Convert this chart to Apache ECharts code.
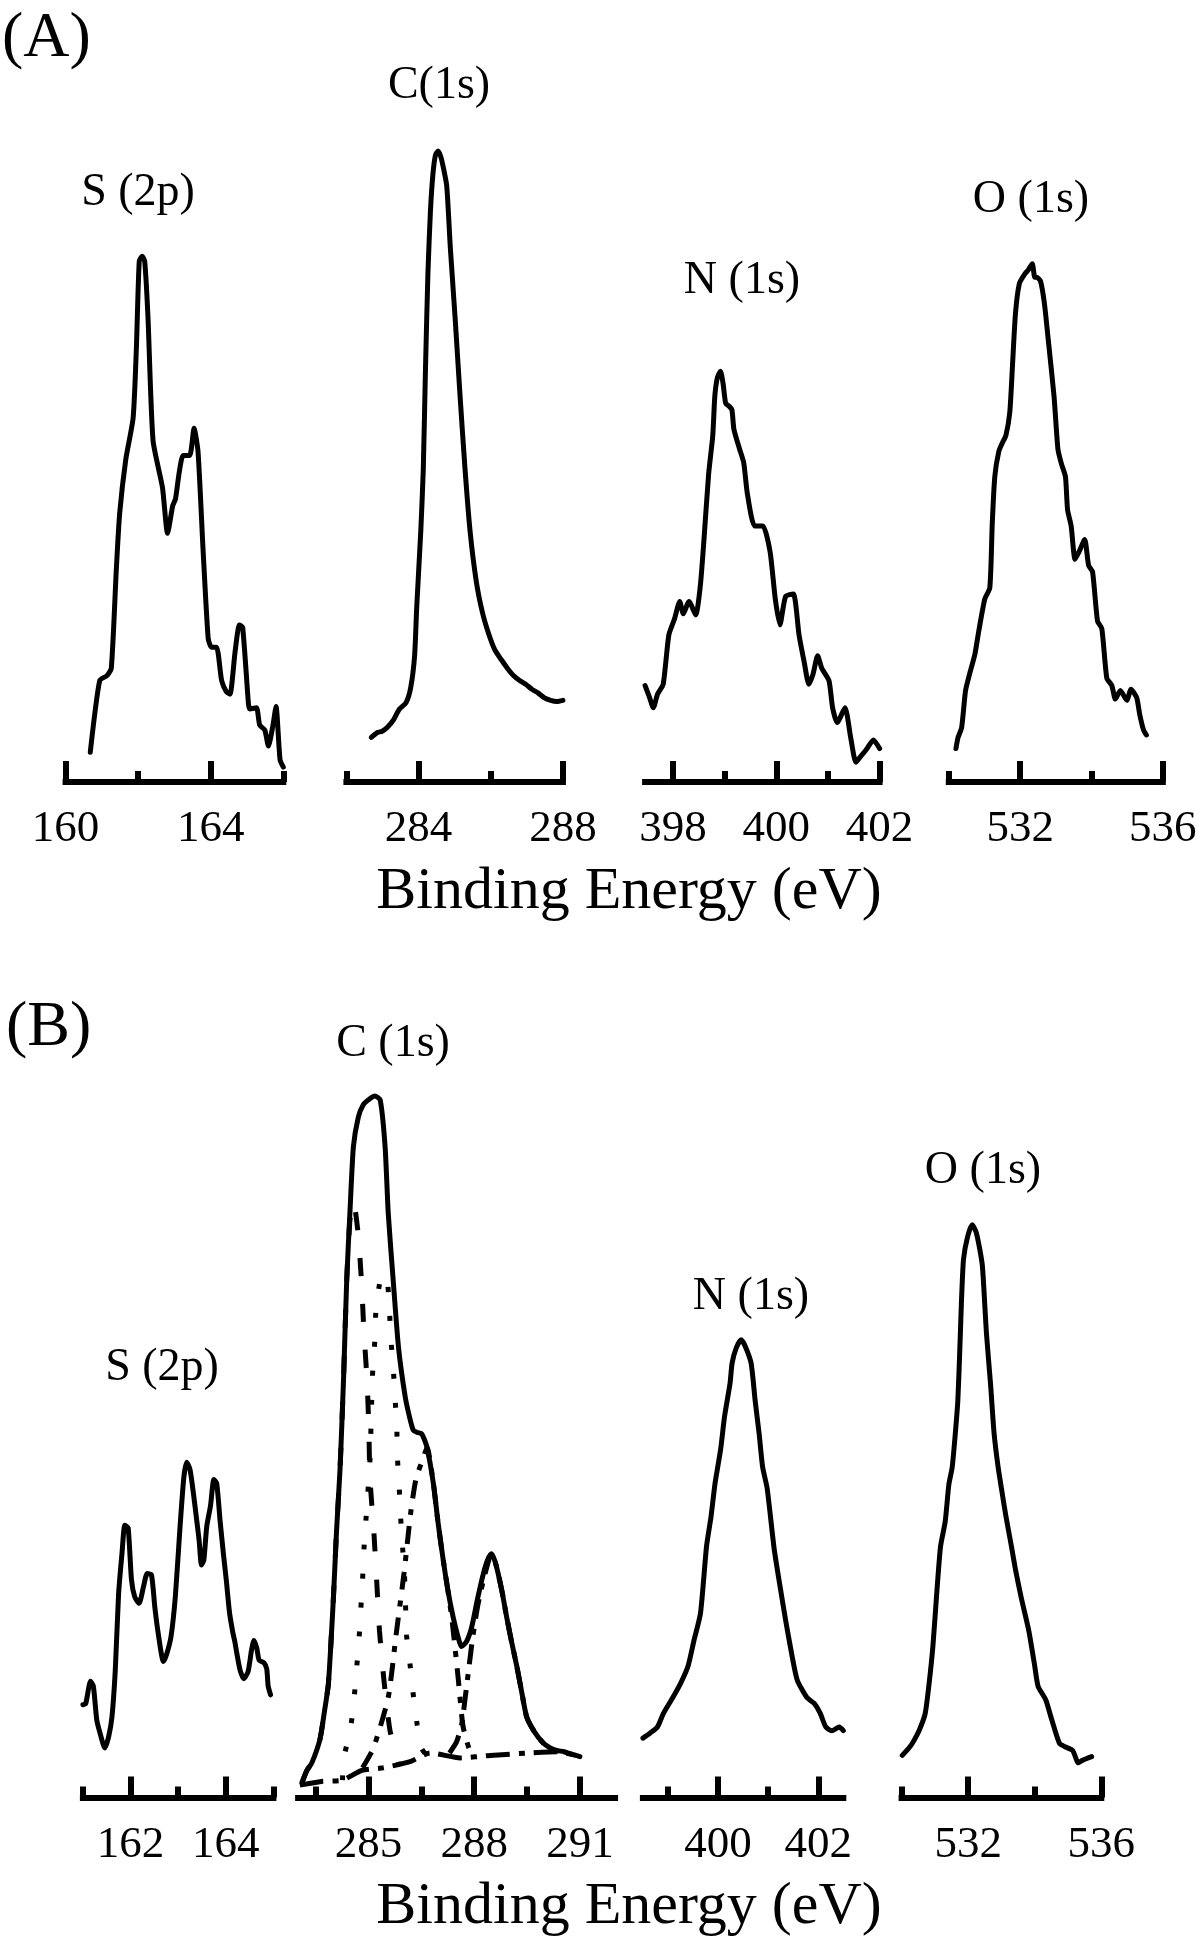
<!DOCTYPE html>
<html>
<head>
<meta charset="utf-8">
<script src="https://cdn.jsdelivr.net/npm/echarts@6/dist/echarts.min.js"></script>
<style>
  html, body { margin: 0; background: #fff; }
  #chart { width: 1200px; height: 1940px; }
</style>
</head>
<body>
<div id="chart"></div>
<script>
// XPS spectra, [binding energy (eV), intensity (a.u.)].
// (A) top row
const A_S2P = [[160.68,24],[160.94,82],[161.14,86],[161.26,92],[161.40,173],[161.49,217],[161.66,261],[161.86,294],[161.95,350],[162.03,421],[162.11,425],[162.18,421],[162.27,376],[162.41,276],[162.67,238],[162.81,201],[162.95,223],[163.03,229],[163.13,250],[163.24,264],[163.42,264],[163.54,286],[163.65,267],[163.79,187],[163.93,116],[164.02,109],[164.16,109],[164.30,82],[164.43,73],[164.53,71],[164.67,105],[164.79,127],[164.88,125],[165.04,63],[165.08,59],[165.26,60],[165.35,46],[165.49,42],[165.59,29],[165.71,45],[165.80,61],[165.91,18],[166.00,12]];
const A_C1S = [[282.69,36],[282.86,40],[282.99,41],[283.13,44],[283.30,50],[283.47,59],[283.65,64],[283.78,76],[283.89,102],[283.95,142],[284.06,202],[284.13,252],[284.19,332],[284.26,412],[284.33,462],[284.40,492],[284.47,507],[284.54,510],[284.61,506],[284.67,499],[284.78,482],[284.88,432],[285.02,372],[285.15,312],[285.29,252],[285.43,202],[285.60,162],[285.77,137],[285.94,120],[286.11,107],[286.29,99],[286.46,92],[286.63,86],[286.80,82],[286.97,79],[287.14,75],[287.31,72],[287.49,68],[287.66,66],[287.83,65],[288.00,66]];
const A_N1S = [[397.46,78],[397.54,69],[397.62,60],[397.70,71],[397.81,79],[397.92,119],[398.03,132],[398.13,146],[398.20,136],[398.31,146],[398.44,135],[398.53,159],[398.60,196],[398.69,249],[398.77,280],[398.81,312],[398.86,327],[398.92,332],[398.97,322],[399.02,306],[399.08,304],[399.14,301],[399.18,285],[399.29,269],[399.37,258],[399.44,233],[399.58,207],[399.74,207],[399.88,186],[399.98,148],[400.07,127],[400.18,150],[400.33,152],[400.44,119],[400.54,97],[400.63,79],[400.71,87],[400.80,102],[400.88,92],[401.02,82],[401.09,60],[401.18,48],[401.33,60],[401.44,36],[401.54,16],[401.62,20],[401.74,26],[401.88,34],[402.00,27]];
const A_O1S = [[530.20,27],[530.26,36],[530.36,44],[530.47,74],[530.58,87],[530.73,103],[530.84,122],[531.01,148],[531.15,157],[531.22,210],[531.29,247],[531.40,267],[531.50,274],[531.60,280],[531.71,299],[531.79,339],[531.87,379],[531.98,403],[532.14,411],[532.23,414],[532.34,419],[532.41,408],[532.46,408],[532.57,405],[532.68,387],[532.79,357],[532.95,312],[533.06,269],[533.16,257],[533.27,247],[533.33,220],[533.43,207],[533.54,180],[533.65,186],[533.81,196],[533.92,175],[534.03,170],[534.17,130],[534.29,124],[534.43,84],[534.57,78],[534.67,67],[534.81,74],[534.99,66],[535.11,75],[535.27,68],[535.35,55],[535.46,42],[535.54,38]];

// (B) bottom row
const B_S2P = [[161.00,75],[161.06,76],[161.16,94],[161.22,90],[161.29,63],[161.36,52],[161.46,40],[161.54,49],[161.61,65],[161.68,103],[161.75,165],[161.82,197],[161.88,220],[161.95,218],[162.02,176],[162.09,162],[162.18,157],[162.27,170],[162.35,181],[162.44,180],[162.51,154],[162.58,133],[162.69,110],[162.76,116],[162.85,130],[162.94,162],[163.04,219],[163.12,259],[163.18,271],[163.25,265],[163.32,246],[163.39,224],[163.44,208],[163.49,188],[163.54,192],[163.60,219],[163.68,236],[163.75,257],[163.81,254],[163.88,224],[163.95,197],[164.01,176],[164.08,149],[164.15,133],[164.19,126],[164.23,117],[164.30,103],[164.38,96],[164.47,102],[164.54,119],[164.59,127],[164.65,121],[164.70,111],[164.80,109],[164.86,104],[164.89,90],[164.94,83]];
const B_C1S = [[283.11,12],[283.25,22],[283.39,28],[283.62,47],[283.74,68],[283.86,92],[284.00,160],[284.09,215],[284.19,265],[284.29,338],[284.38,418],[284.47,472],[284.57,526],[284.71,550],[284.85,560],[285.00,564],[285.18,567],[285.33,564],[285.47,526],[285.56,472],[285.70,418],[285.85,364],[286.04,324],[286.16,308],[286.27,297],[286.39,295],[286.51,294],[286.65,284],[286.84,254],[286.97,223],[287.12,192],[287.25,168],[287.40,146],[287.53,131],[287.64,122],[287.78,126],[287.93,138],[288.09,160],[288.26,181],[288.38,192],[288.49,197],[288.59,191],[288.68,181],[288.80,165],[288.92,146],[289.06,126],[289.21,106],[289.35,85],[289.49,65],[289.71,53],[289.96,44],[290.16,40],[290.34,38],[290.55,37],[290.76,35],[291.00,33]];
// fitted C(1s) components and background
const B_C1S_FIT1 = [[283.11,12],[283.25,22],[283.39,28],[283.62,47],[283.74,68],[283.86,92],[284.00,160],[284.09,215],[284.19,265],[284.29,338],[284.38,418],[284.47,466],[284.57,482],[284.70,457],[284.80,417],[284.87,376],[284.96,336],[285.01,296],[285.04,258],[285.15,215],[285.23,176],[285.31,135],[285.44,94],[285.61,54],[285.85,28]];
const B_C1S_FIT2 = [[284.26,14],[284.30,32],[284.49,56],[284.59,80],[284.66,104],[284.73,128],[284.78,152],[284.83,176],[284.87,201],[284.93,226],[285.04,273],[285.09,321],[285.12,346],[285.18,370],[285.21,394],[285.33,418],[285.42,422],[285.52,421],[285.59,396],[285.63,372],[285.70,348],[285.75,324],[285.80,301],[285.82,275],[285.87,251],[285.91,227],[285.96,205],[286.02,180],[286.05,156],[286.08,131],[286.18,107],[286.27,83],[286.38,59],[286.50,40],[286.65,34]];
const B_C1S_FIT3 = [[284.83,24],[285.14,40],[285.56,81],[285.78,131],[286.01,182],[286.20,231],[286.35,258],[286.56,275],[286.66,283],[286.84,254],[286.97,223],[287.12,192],[287.25,168],[287.35,148],[287.43,128],[287.55,95],[287.68,58],[287.85,40],[288.00,34]];
const B_C1S_FIT4 = [[287.30,36],[287.50,45],[287.65,60],[287.75,82],[287.85,105],[287.95,128],[288.10,155],[288.30,180],[288.49,197],[288.59,191],[288.68,181],[288.80,165],[288.92,146],[289.06,126],[289.21,106],[289.35,85],[289.49,65],[289.71,53],[289.96,44],[290.20,38]];
const B_C1S_BASE = [[283.05,10],[283.66,13],[284.26,14],[284.81,22],[285.42,24],[286.18,29],[286.75,36],[287.60,32],[288.45,34],[289.58,36],[290.35,37],[290.91,34],[291.00,33]];
const B_N1S = [[398.50,48],[398.64,52],[398.79,57],[398.91,68],[399.10,81],[399.25,92],[399.40,106],[399.52,127],[399.65,149],[399.77,203],[399.86,227],[399.94,254],[400.05,281],[400.13,308],[400.24,335],[400.28,351],[400.36,363],[400.46,370],[400.54,365],[400.66,351],[400.74,321],[400.82,294],[400.89,267],[400.98,250],[401.12,201],[401.24,170],[401.35,143],[401.47,116],[401.58,95],[401.77,81],[401.92,76],[402.04,68],[402.15,57],[402.27,54],[402.42,57],[402.50,54]];
const B_O1S = [[530.02,34],[530.25,41],[530.37,46],[530.54,55],[530.71,68],[530.83,93],[530.94,122],[531.05,163],[531.17,203],[531.31,223],[531.42,253],[531.52,267],[531.61,293],[531.69,321],[531.75,363],[531.80,402],[531.86,435],[531.98,453],[532.12,463],[532.24,457],[532.35,443],[532.43,429],[532.55,375],[532.67,335],[532.78,294],[532.90,267],[533.01,248],[533.13,228],[533.30,203],[533.43,183],[533.59,162],[533.82,135],[533.99,108],[534.10,90],[534.33,79],[534.51,63],[534.74,44],[534.91,41],[535.14,38],[535.31,28],[535.43,30],[535.71,33]];

// axis ticks (majors carry labels)
const A_S2P_MAJOR = [160, 164], A_S2P_MINOR = [162, 166];
const A_C1S_MAJOR = [284, 288], A_C1S_MINOR = [282, 286];
const A_N1S_MAJOR = [398, 400, 402], A_N1S_MINOR = [399, 401];
const A_O1S_MAJOR = [532, 536], A_O1S_MINOR = [530, 534];
const B_S2P_MAJOR = [162, 164], B_S2P_MINOR = [161, 163, 165];
const B_C1S_MAJOR = [285, 288, 291], B_C1S_MINOR = [283.5, 286.5, 289.5];
const B_N1S_MAJOR = [400, 402], B_N1S_MINOR = [399, 401];
const B_O1S_MAJOR = [532, 536], B_O1S_MINOR = [530, 534];

const FONT = '"Liberation Serif", "Times New Roman", serif';
const PX = 1.2371; // px per intensity unit

// layout: x0/x1 = pixel span of the energy axis, base = baseline y
const panels = [
  { data: A_S2P, min: 160, max: 166, major: A_S2P_MAJOR, minor: A_S2P_MINOR, x0: 65.6, x1: 283.3, base: 782, ymax: 540 },
  { data: A_C1S, min: 282, max: 288, major: A_C1S_MAJOR, minor: A_C1S_MINOR, x0: 346.4, x1: 562.9, base: 782, ymax: 540 },
  { data: A_N1S, min: 397.46, max: 402, major: A_N1S_MAJOR, minor: A_N1S_MINOR, x0: 645.1, x1: 879.6, base: 782, ymax: 540 },
  { data: A_O1S, min: 530, max: 536, major: A_O1S_MAJOR, minor: A_O1S_MINOR, x0: 948.8, x1: 1162.8, base: 782, ymax: 540 },
  { data: B_S2P, min: 161, max: 165, major: B_S2P_MAJOR, minor: B_S2P_MINOR, x0: 82.9, x1: 273.4, base: 1797.5, ymax: 600 },
  { data: B_C1S, min: 283, max: 292, major: B_C1S_MAJOR, minor: B_C1S_MINOR, x0: 298.1, x1: 615.1, base: 1797.5, ymax: 600 },
  { data: B_N1S, min: 398.5, max: 402.5, major: B_N1S_MAJOR, minor: B_N1S_MINOR, x0: 642.9, x1: 843.3, base: 1797.5, ymax: 600 },
  { data: B_O1S, min: 530, max: 536, major: B_O1S_MAJOR, minor: B_O1S_MINOR, x0: 901.6, x1: 1101.3, base: 1797.5, ymax: 600 },
];

// component line styles for the B C(1s) fit
const fits = [
  { data: B_C1S_FIT1, dash: [18, 28] },
  { data: B_C1S_FIT2, dash: [5, 24] },
  { data: B_C1S_FIT3, dash: [18, 11, 6, 11] },
  { data: B_C1S_FIT4, dash: [20, 10, 6, 10] },
  { data: B_C1S_BASE, dash: [24, 9, 6, 9] },
];

const labels = [
  { text: '(A)', x: 2, y: 39, size: 64, align: 'left' },
  { text: 'S (2p)', x: 138, y: 193, size: 46 },
  { text: 'C(1s)', x: 439, y: 86, size: 46 },
  { text: 'N (1s)', x: 742, y: 281, size: 46 },
  { text: 'O (1s)', x: 1031, y: 200, size: 46 },
  { text: 'Binding Energy (eV)', x: 629, y: 892, size: 60 },
  { text: '(B)', x: 6, y: 1028, size: 64, align: 'left' },
  { text: 'C (1s)', x: 393, y: 1044, size: 46 },
  { text: 'S (2p)', x: 162, y: 1368, size: 46 },
  { text: 'N (1s)', x: 751, y: 1297, size: 46 },
  { text: 'O (1s)', x: 983, y: 1171, size: 46 },
  { text: 'Binding Energy (eV)', x: 629, y: 1907, size: 60 },
];

const grid = [], xAxis = [], yAxis = [], series = [];
const tickStyle = { color: '#000', width: 6 };

panels.forEach((p, i) => {
  const h = p.ymax * PX;
  grid.push({ left: p.x0, top: p.base - h, width: p.x1 - p.x0, height: h });
  xAxis.push({
    gridIndex: i, type: 'value', position: 'bottom', min: p.min, max: p.max,
    axisLine: { show: true, onZero: false, lineStyle: { color: '#000', width: 6, cap: 'square' } },
    axisTick: { show: true, inside: true, length: 21, customValues: p.major, lineStyle: tickStyle },
    axisLabel: { show: true, customValues: p.major, margin: 25, color: '#000', fontFamily: FONT, fontSize: 45 },
    splitLine: { show: false },
  });
  xAxis.push({
    gridIndex: i, type: 'value', position: 'bottom', min: p.min, max: p.max,
    axisLine: { show: false, onZero: false },
    axisTick: { show: true, inside: true, length: 11, customValues: p.minor, lineStyle: tickStyle },
    axisLabel: { show: false },
    splitLine: { show: false },
  });
  yAxis.push({ gridIndex: i, type: 'value', min: 0, max: p.ymax, show: false });
  series.push({
    type: 'line', xAxisIndex: 2 * i, yAxisIndex: i, data: p.data,
    showSymbol: false, smooth: 0.2, clip: false, silent: true,
    lineStyle: { color: '#000', width: 5, cap: 'round', join: 'round' },
  });
});

fits.forEach((f) => {
  series.push({
    type: 'line', xAxisIndex: 10, yAxisIndex: 5, data: f.data,
    showSymbol: false, smooth: 0.2, clip: false, silent: true,
    lineStyle: { color: '#000', width: 5, type: f.dash, cap: 'butt' },
  });
});

const chart = echarts.init(document.getElementById('chart'), null, { renderer: 'canvas' });
chart.setOption({
  animation: false,
  backgroundColor: '#fff',
  grid, xAxis, yAxis, series,
  graphic: labels.map((t) => ({
    type: 'text', x: t.x, y: t.y, silent: true,
    style: {
      text: t.text, fill: '#000', font: `${t.size}px ${FONT}`,
      align: t.align || 'center', verticalAlign: 'middle',
      textAlign: t.align || 'center', textVerticalAlign: 'middle',
    },
  })),
});
</script>
</body>
</html>
